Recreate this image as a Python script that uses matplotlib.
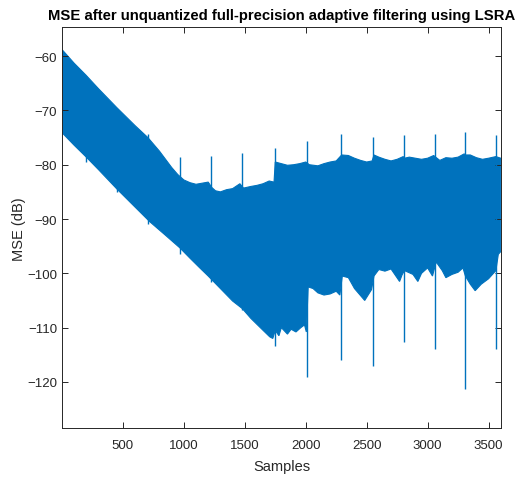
import numpy as np
import matplotlib.pyplot as plt

plt.rcParams['font.family'] = ['Liberation Sans', 'DejaVu Sans']

# upper edge of the MSE band (sample, dB)
upper_x = [1, 100, 197, 300, 451, 600, 705, 800, 900, 950, 1000, 1050, 1100, 1150,
           1200, 1230, 1260, 1300, 1350, 1400, 1460, 1490, 1550, 1600, 1650, 1700,
           1740, 1750, 1800, 1850, 1900, 1950, 2000, 2030, 2100, 2150, 2200, 2250,
           2295, 2350, 2400, 2450, 2500, 2545, 2560, 2600, 2650, 2700, 2750, 2800,
           2810, 2850, 2900, 2950, 3000, 3050, 3060, 3100, 3150, 3200, 3250, 3300,
           3310, 3350, 3400, 3450, 3500, 3560, 3600]
upper_y = [-58.8, -61.3, -63.5, -66.0, -69.5, -72.8, -75.0, -77.5, -80.5, -81.8,
           -82.8, -83.3, -83.6, -83.4, -83.2, -84.2, -84.8, -85.0, -84.6, -84.4,
           -83.5, -84.3, -84.0, -83.8, -83.5, -83.0, -83.2, -79.5, -79.8, -80.1,
           -80.0, -79.8, -79.5, -80.0, -80.2, -79.8, -79.5, -79.3, -78.2, -78.3,
           -78.8, -79.2, -79.5, -79.3, -78.2, -78.6, -79.0, -79.3, -79.0, -78.5,
           -78.8, -78.6, -78.8, -79.0, -78.8, -78.3, -78.5, -79.2, -78.7, -78.8,
           -78.6, -78.0, -78.2, -78.2, -78.7, -79.0, -78.8, -78.5, -78.8]

# lower edge of the band
lower_x = [1, 100, 200, 300, 448, 600, 721, 850, 967, 1050, 1131, 1200, 1300, 1400,
           1480, 1550, 1650, 1705, 1730, 1750, 1780, 1800, 1850, 1880, 1920, 1960,
           1990, 2005, 2020, 2060, 2100, 2150, 2200, 2250, 2280, 2300, 2350, 2400,
           2484, 2540, 2560, 2600, 2650, 2700, 2770, 2790, 2810, 2880, 2920, 2950,
           3000, 3040, 3070, 3120, 3150, 3200, 3250, 3290, 3310, 3350, 3390, 3440,
           3500, 3560, 3580, 3600]
lower_y = [-74.1, -76.4, -78.6, -80.9, -84.4, -87.8, -90.5, -93.0, -95.3, -97.2,
           -99.0, -100.5, -102.8, -105.1, -106.5, -108.3, -110.5, -111.7, -112.0,
           -110.5, -111.5, -110.0, -111.2, -110.3, -110.8, -110.0, -109.5, -110.8,
           -102.5, -102.8, -103.6, -104.0, -103.8, -103.3, -104.0, -100.5, -100.8,
           -102.8, -105.0, -103.0, -100.5, -99.3, -99.6, -99.2, -101.5, -100.3,
           -99.5, -100.2, -101.5, -100.0, -99.0, -100.5, -97.9, -99.5, -100.8,
           -100.2, -99.8, -99.0, -100.5, -102.0, -103.2, -102.0, -101.0, -99.5,
           -96.5, -96.0]

# periodic spikes
spike_x = [197, 451, 705, 967, 1221, 1478, 1744, 2013, 2290, 2552, 2803, 3057, 3306, 3563]
spike_top = [-63.6, -69.7, -74.3, -78.5, -78.4, -77.8, -76.9, -75.6, -74.4, -74.9,
             -74.5, -74.4, -73.9, -74.6]
spike_bot = [-79.5, -85.0, -91.0, -96.5, -101.6, -106.8, -113.3, -119.1, -116.0,
             -117.0, -112.6, -113.9, -121.3, -113.9]

blue = '#0072BD'
dark = '#262626'

fig = plt.figure(figsize=(5.26, 4.81), dpi=100)
ax = fig.add_axes([0.118, 0.108, 0.834, 0.833])

ax.fill(np.r_[upper_x, lower_x[::-1]], np.r_[upper_y, lower_y[::-1]],
        color=blue, lw=0.8, ec=blue)
ax.vlines(spike_x, spike_bot, spike_top, color=blue, lw=1.0)

ax.set_xlim(1, 3600)
ax.set_ylim(-128.5, -54.7)
ax.set_xticks([500, 1000, 1500, 2000, 2500, 3000, 3500])
ax.set_yticks([-120, -110, -100, -90, -80, -70, -60])

ax.tick_params(direction='in', top=True, right=True, length=4, width=0.7,
               colors=dark, labelsize=9.5)
ax.tick_params(axis='x', pad=8)
for s in ax.spines.values():
    s.set_color(dark)
    s.set_linewidth(0.7)

ax.set_xlabel('Samples', fontsize=10.5, color=dark, labelpad=6)
ax.set_ylabel('MSE (dB)', fontsize=10.5, color=dark, labelpad=1)
ax.set_title('MSE after unquantized full-precision adaptive filtering using LSRA',
             fontsize=10.7, fontweight='bold', color='black', pad=6)

fig.savefig('out.png', dpi=100)
